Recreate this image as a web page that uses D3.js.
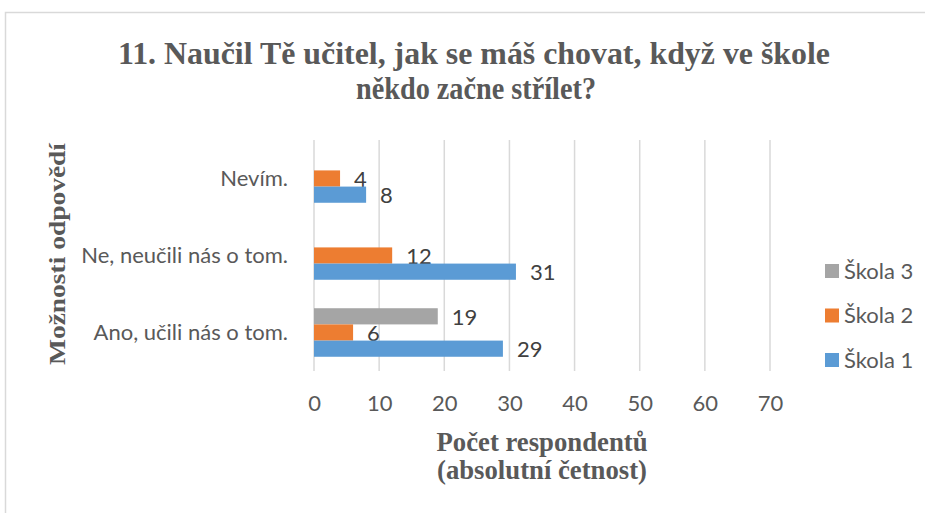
<!DOCTYPE html>
<html>
<head>
<meta charset="utf-8">
<script src="https://cdn.jsdelivr.net/npm/d3@7"></script>
<style>
  html, body { margin: 0; padding: 0; background: #fff; }
  svg { display: block; }
</style>
</head>
<body>
<div id="chart"></div>
<script>
// kategorie (shora dolu)
const categories = ["Nevím.", "Ne, neučili nás o tom.", "Ano, učili nás o tom."];
// serie - poradi shora dolu v ramci kategorie
const seriesNames = ["Škola 3", "Škola 2", "Škola 1"];
const skola1 = [8, 31, 29];
const skola2 = [4, 12, 6];
const skola3 = [null, null, 19];
const xTicks = [0, 10, 20, 30, 40, 50, 60, 70];

const seriesValues = { "Škola 1": skola1, "Škola 2": skola2, "Škola 3": skola3 };
const colors = { "Škola 1": "#5B9BD5", "Škola 2": "#ED7D31", "Škola 3": "#A5A5A5" };

const width = 925, height = 513;
const plot = { left: 314, right: 770, top: 140, bottom: 371 };
const sans = "Lato, 'Open Sans', sans-serif";
const serif = "'Liberation Serif', 'Times New Roman', serif";

const svg = d3.select("#chart").append("svg")
  .attr("width", width).attr("height", height);

// ramecek grafu
svg.append("rect")
  .attr("x", 5.5).attr("y", 12.5)
  .attr("width", 940).attr("height", 530)
  .attr("fill", "#fff").attr("stroke", "#d9d9d9").attr("stroke-width", 1.5);

// titulek
const title = svg.append("text")
  .attr("text-anchor", "middle")
  .style("font-family", serif)
  .style("font-weight", "bold")
  .style("font-size", "32px")
  .attr("fill", "#595959");
title.append("tspan").attr("x", 474).attr("y", 64)
  .attr("textLength", 712).attr("lengthAdjust", "spacingAndGlyphs")
  .text("11. Naučil Tě učitel, jak se máš chovat, když ve škole");
title.append("tspan").attr("x", 476).attr("y", 99)
  .attr("textLength", 240).attr("lengthAdjust", "spacingAndGlyphs")
  .text("někdo začne střílet?");

// skaly
const x = d3.scaleLinear().domain([0, 70]).range([plot.left, plot.right]);
const y0 = d3.scaleBand().domain(categories).range([plot.top, plot.bottom]).padding(0);
const y1 = d3.scaleBand().domain(seriesNames).range([0, y0.bandwidth()])
  .paddingInner(0).paddingOuter(0.88);

// mrizka
svg.append("g").selectAll("line")
  .data(xTicks)
  .enter().append("line")
  .attr("x1", d => x(d)).attr("x2", d => x(d))
  .attr("y1", plot.top).attr("y2", plot.bottom)
  .attr("stroke", "#d9d9d9").attr("stroke-width", 1.5);

// osa x
const xAxis = svg.append("g")
  .attr("transform", `translate(0,${plot.bottom})`)
  .call(d3.axisBottom(x).tickValues(xTicks).tickSize(0).tickPadding(24));
xAxis.select(".domain").remove();
xAxis.selectAll("text")
  .style("font-family", sans)
  .style("font-size", "22px")
  .attr("fill", "#595959");

// osa y
const yAxis = svg.append("g")
  .attr("transform", `translate(${plot.left},0)`)
  .call(d3.axisLeft(y0).tickSize(0).tickPadding(26));
yAxis.select(".domain").remove();
yAxis.selectAll("text")
  .style("font-family", sans)
  .style("font-size", "22px")
  .attr("fill", "#595959");

// sloupce
const groups = svg.append("g").selectAll("g")
  .data(categories)
  .enter().append("g")
  .attr("transform", d => `translate(0,${y0(d)})`);

const items = groups.selectAll("g")
  .data((c, i) => seriesNames.map(s => ({ cat: c, series: s, value: seriesValues[s][i] }))
    .filter(d => d.value !== null))
  .enter().append("g");

items.append("rect")
  .attr("x", x(0))
  .attr("y", d => y1(d.series))
  .attr("width", d => x(d.value) - x(0))
  .attr("height", y1.bandwidth())
  .attr("fill", d => colors[d.series]);

items.append("text")
  .attr("x", d => x(d.value) + 14)
  .attr("y", d => y1(d.series) + y1.bandwidth() / 2 + 1)
  .attr("dy", "0.35em")
  .style("font-family", sans)
  .style("font-size", "22px")
  .attr("fill", "#404040")
  .text(d => d.value);

// nazvy os
const xTitle = svg.append("text")
  .attr("text-anchor", "middle")
  .style("font-family", serif)
  .style("font-weight", "bold")
  .style("font-size", "27px")
  .attr("fill", "#595959");
xTitle.append("tspan").attr("x", 542).attr("y", 451)
  .attr("textLength", 211).attr("lengthAdjust", "spacingAndGlyphs")
  .text("Počet respondentů");
xTitle.append("tspan").attr("x", 542).attr("y", 479)
  .attr("textLength", 210).attr("lengthAdjust", "spacingAndGlyphs")
  .text("(absolutní četnost)");

svg.append("text")
  .attr("transform", "translate(65,254) rotate(-90)")
  .attr("text-anchor", "middle")
  .attr("textLength", 222).attr("lengthAdjust", "spacingAndGlyphs")
  .style("font-family", serif)
  .style("font-weight", "bold")
  .style("font-size", "24px")
  .attr("fill", "#595959")
  .text("Možnosti odpovědí");

// legenda
const legend = svg.append("g").selectAll("g")
  .data(seriesNames)
  .enter().append("g")
  .attr("transform", (d, i) => `translate(825,${271 + i * 44.5})`);
legend.append("rect")
  .attr("x", 0).attr("y", -7)
  .attr("width", 14).attr("height", 14)
  .attr("fill", d => colors[d]);
legend.append("text")
  .attr("x", 19).attr("y", 0).attr("dy", "0.35em")
  .style("font-family", sans)
  .style("font-size", "22px")
  .attr("fill", "#595959")
  .text(d => d);
</script>
</body>
</html>
